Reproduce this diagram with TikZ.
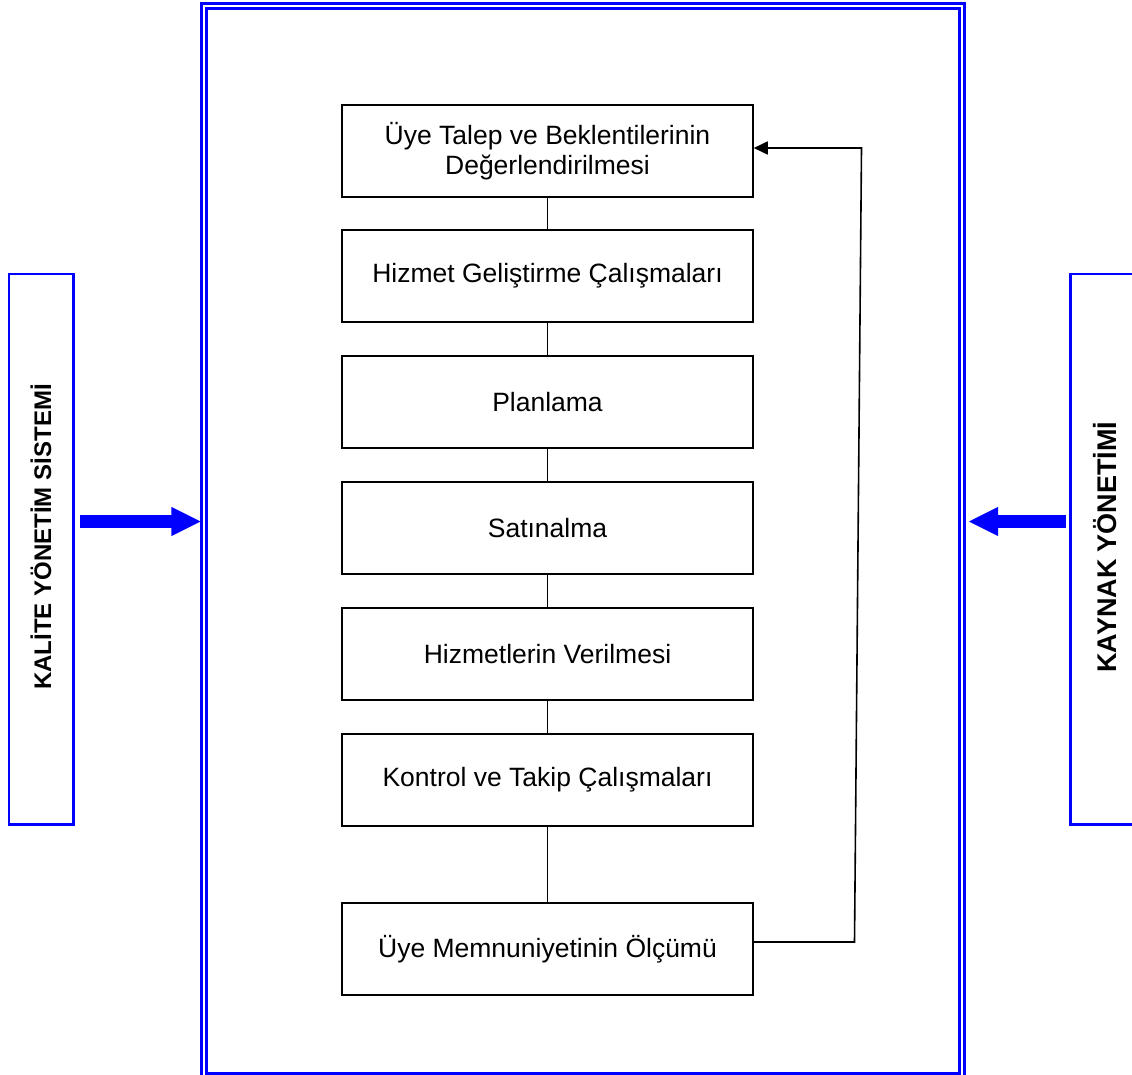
\documentclass[tikz,border=0pt]{standalone}
\usepackage{fontspec}
\setmainfont{Liberation Sans}
\usetikzlibrary{arrows.meta}
\definecolor{frameblue}{RGB}{0,0,255}
\tikzset{
  stepbox/.style={draw=black, line width=1.5pt, minimum width=411pt, minimum height=92pt,
    inner sep=0pt, align=center, font=\fontsize{26.5}{30}\selectfont},
  link/.style={draw=black, line width=1.6pt},
  sidebox/.style={draw=frameblue, line width=2.3pt},
  sidetext/.style={font=\fontsize{24}{28}\selectfont\bfseries, rotate=90},
  framel/.style={draw=frameblue, line width=2.6pt},
  bluearrow/.style={draw=frameblue, line width=13pt, -{Triangle[length=30pt,width=27pt]}}
}
\begin{document}
\begin{tikzpicture}[x=1pt,y=-1pt]
\useasboundingbox (0,0) rectangle (1132,1075);
% frame
\draw[framel] (201.3,1090) -- (201.3,3.8) -- (964.2,3.8) -- (964.2,1090);
\draw[framel] (206.3,1073.6) rectangle (959.7,8.6);
\coordinate (frameL) at (201.3,521.5);
\coordinate (frameR) at (964.2,521.5);
% side boxes
\draw[sidebox] (9,274.3) rectangle (73.5,824.5);
\draw[sidebox] (1140,274.3) -- (1070.5,274.3) -- (1070.5,824.5) -- (1140,824.5);
\node[sidetext] (kys) at (41,537) {KALİTE YÖNETİM SİSTEMİ};
\node[sidetext, font=\fontsize{27}{30}\selectfont\bfseries] (ky) at (1105,547) {KAYNAK YÖNETİMİ};
% arrows
\coordinate (la) at (80,521.5);
\coordinate (ra) at (1066,521.5);
\draw[bluearrow] (la) -- (frameL);
\draw[bluearrow] (ra) -- ([xshift=4pt]frameR);
% process boxes
\node[stepbox] (b1) at (547.5,151) {Üye Talep ve Beklentilerinin\\Değerlendirilmesi};
\node[stepbox] (b2) at (547.5,276) {Hizmet Geliştirme Çalışmaları};
\node[stepbox] (b3) at (547.5,402) {Planlama};
\node[stepbox] (b4) at (547.5,528) {Satınalma};
\node[stepbox] (b5) at (547.5,654) {Hizmetlerin Verilmesi};
\node[stepbox] (b6) at (547.5,780) {Kontrol ve Takip Çalışmaları};
\node[stepbox] (b7) at (547.5,949) {Üye Memnuniyetinin Ölçümü};
\draw[link] (b1) -- (b2);
\draw[link] (b2) -- (b3);
\draw[link] (b3) -- (b4);
\draw[link] (b4) -- (b5);
\draw[link] (b5) -- (b6);
\draw[link] (b6) -- (b7);
% feedback
\coordinate (fb1) at (854.5,942);
\coordinate (fb2) at (861.5,148);
\draw[link, -{Triangle[length=14pt,width=13pt]}] (b7.east |- fb1) -- (fb1) -- (fb2) -- (b1.east |- fb2);
\end{tikzpicture}
\end{document}
